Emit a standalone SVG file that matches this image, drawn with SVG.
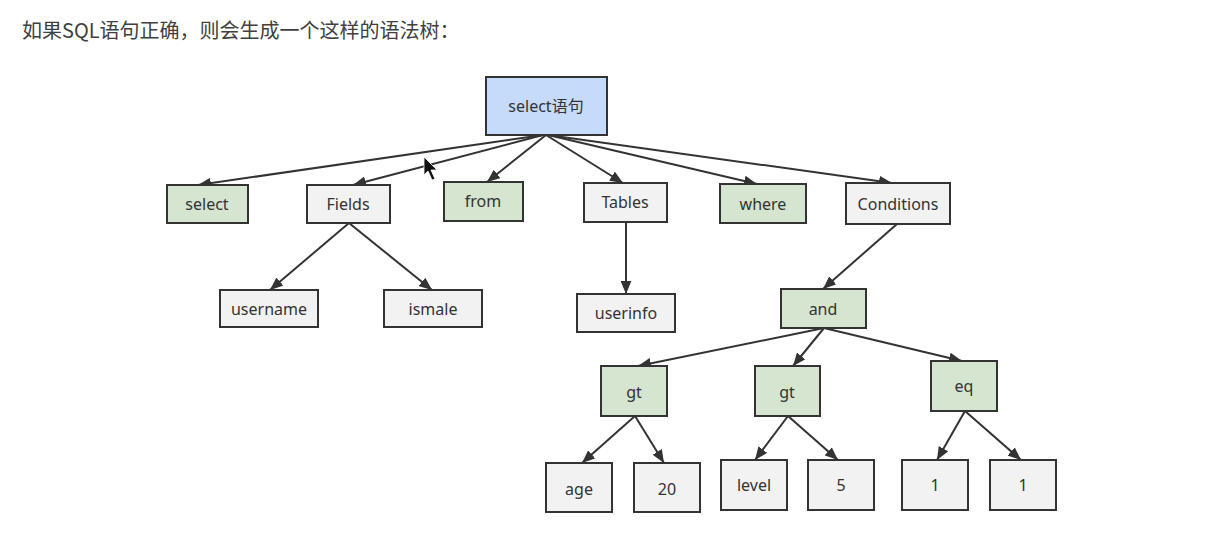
<svg xmlns="http://www.w3.org/2000/svg" width="1224" height="536" viewBox="0 0 1224 536">
<style>
.n rect{stroke:#333;stroke-width:2}
.leaf rect{fill:#f2f2f2}
.kw rect{fill:#d5e5cf}
.root rect{fill:#c6dbfa}
text{font-family:"Noto Sans","Noto Sans CJK SC",sans-serif;font-size:16px;fill:#333;text-anchor:middle;dominant-baseline:central}
.title{font-size:20px;fill:#404040;text-anchor:start;dominant-baseline:auto;font-family:"Noto Sans CJK SC",sans-serif}
.c line{stroke:#333;stroke-width:2;marker-end:url(#ah)}
</style>
<defs>
<marker id="ah" viewBox="0 0 12 10" refX="12" refY="5" markerWidth="13" markerHeight="11" markerUnits="userSpaceOnUse" orient="auto">
<path d="M0,0 L12,5 L0,10 z" fill="#333"/>
</marker>
</defs>
<rect width="1224" height="536" fill="#fff"/>
<text class="title" x="22" y="38">如果SQL语句正确，则会生成一个这样的语法树：</text>
<g class="c" id="connectors">
<line x1="543" y1="135" x2="198" y2="185"/>
<line x1="543" y1="135" x2="353" y2="185"/>
<line x1="546" y1="135" x2="487" y2="182"/>
<line x1="546" y1="135" x2="623" y2="183"/>
<line x1="548" y1="135" x2="757" y2="184"/>
<line x1="548" y1="135" x2="892" y2="183"/>
<line x1="349" y1="223" x2="270" y2="290"/>
<line x1="349" y1="223" x2="432" y2="290"/>
<line x1="626" y1="222" x2="626" y2="294"/>
<line x1="897" y1="224" x2="823" y2="289"/>
<line x1="824" y1="328" x2="638" y2="366"/>
<line x1="824" y1="328" x2="793" y2="366"/>
<line x1="824" y1="328" x2="962" y2="361"/>
<line x1="635" y1="416" x2="582" y2="463"/>
<line x1="635" y1="416" x2="664" y2="463"/>
<line x1="788" y1="416" x2="755" y2="460"/>
<line x1="788" y1="416" x2="838" y2="460"/>
<line x1="965" y1="411" x2="937" y2="460"/>
<line x1="965" y1="411" x2="1021" y2="460"/>
</g>
<g id="root" class="n root"><rect x="486" y="77" width="121" height="58"/><text x="546" y="106">select语句</text></g>
<g id="select" class="n kw"><rect x="167" y="185" width="81" height="38"/><text x="207" y="204">select</text></g>
<g id="fields" class="n leaf"><rect x="307" y="185" width="83" height="38"/><text x="348" y="204">Fields</text></g>
<g id="from" class="n kw"><rect x="444" y="182" width="79" height="39"/><text x="483" y="201">from</text></g>
<g id="tables" class="n leaf"><rect x="584" y="183" width="83" height="39"/><text x="625" y="202">Tables</text></g>
<g id="where" class="n kw"><rect x="720" y="184" width="86" height="39"/><text x="763" y="204">where</text></g>
<g id="conditions" class="n leaf"><rect x="846" y="183" width="104" height="41"/><text x="898" y="204">Conditions</text></g>
<g id="username" class="n leaf"><rect x="220" y="290" width="98" height="37"/><text x="269" y="309">username</text></g>
<g id="ismale" class="n leaf"><rect x="384" y="290" width="98" height="37"/><text x="433" y="309">ismale</text></g>
<g id="userinfo" class="n leaf"><rect x="577" y="294" width="98" height="38"/><text x="626" y="313">userinfo</text></g>
<g id="and" class="n kw"><rect x="781" y="289" width="85" height="39"/><text x="823" y="309">and</text></g>
<g id="gt1" class="n kw"><rect x="601" y="366" width="66" height="50"/><text x="634" y="392">gt</text></g>
<g id="gt2" class="n kw"><rect x="755" y="366" width="65" height="50"/><text x="787" y="392">gt</text></g>
<g id="eq" class="n kw"><rect x="931" y="361" width="66" height="50"/><text x="964" y="386">eq</text></g>
<g id="age" class="n leaf"><rect x="546" y="463" width="66" height="49"/><text x="579" y="489">age</text></g>
<g id="v20" class="n leaf"><rect x="634" y="463" width="66" height="49"/><text x="667" y="489">20</text></g>
<g id="level" class="n leaf"><rect x="721" y="460" width="66" height="50"/><text x="754" y="485">level</text></g>
<g id="v5" class="n leaf"><rect x="808" y="460" width="66" height="50"/><text x="841" y="485">5</text></g>
<g id="one1" class="n leaf"><rect x="902" y="460" width="66" height="50"/><text x="935" y="485">1</text></g>
<g id="one2" class="n leaf"><rect x="990" y="460" width="66" height="50"/><text x="1023" y="485">1</text></g>
<polygon points="424,157 424,175 428,171 432,180 435,179 431,170 437,170" fill="#111" stroke="#fff" stroke-width="0.8"/>
</svg>
